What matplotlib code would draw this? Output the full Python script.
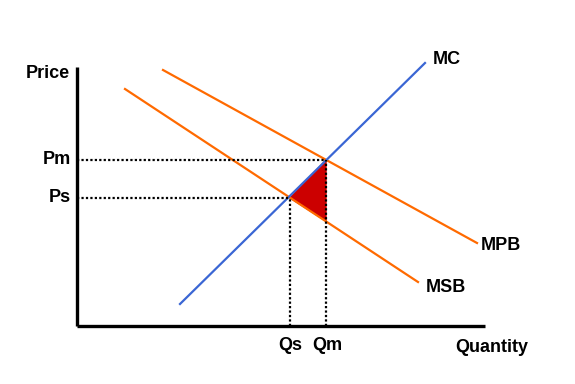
import numpy as np
import matplotlib
matplotlib.use("Agg")
import matplotlib.pyplot as plt

# curve end points (quantity, price) in chart units, origin at the axis corner
mc_q = [103, 348]
mc_p = [22, 263]
mpb_q = [86, 400]
mpb_p = [256, 83]
msb_q = [48, 341]
msb_p = [237, 44]

# equilibrium levels
Qs, Qm = 213, 249
Ps, Pm = 128, 166
msb_at_qm = 105

# axis extents
q_max = 408
p_max = 259

plt.rcParams['font.family'] = ['Liberation Sans', 'DejaVu Sans']

fig = plt.figure(figsize=(5.75, 3.84), dpi=100)
ax = fig.add_axes([0, 0, 1, 1])
ax.set_xlim(-77, 498)
ax.set_ylim(-58, 326)
ax.axis('off')

# axes
ax.plot([0, 0], [0, p_max], c='black', lw=2.4, solid_capstyle='butt')
ax.plot([0, q_max], [0, 0], c='black', lw=2.4, solid_capstyle='butt')

# deadweight triangle
ax.fill([Qs, Qm, Qm], [Ps, Pm, msb_at_qm], color='#cc0000', zorder=2)

# curves
orange = '#ff6a00'
ax.plot(mpb_q, mpb_p, c=orange, lw=1.6, zorder=3)
ax.plot(msb_q, msb_p, c=orange, lw=1.6, zorder=3)
ax.plot(mc_q, mc_p, c='#3a66d4', lw=1.6, zorder=3)

# dotted guide lines
dots = dict(c='black', lw=1.6, ls=(0, (1, 1)), zorder=4)
ax.plot([0, Qm], [Pm, Pm], **dots)
ax.plot([0, Qs], [Ps, Ps], **dots)
ax.plot([Qs, Qs], [0, Ps], **dots)
ax.plot([Qm, Qm], [0, Pm], **dots)

# labels
fs = 13
tk = dict(fontsize=fs, fontweight='bold')
ax.text(-7, p_max - 7, 'Price', ha='right', va='center', **tk)
ax.text(-6, Pm, 'Pm', ha='right', va='center', **tk)
ax.text(-6, Ps + 1, 'Ps', ha='right', va='center', **tk)
ax.text(Qs, -20, 'Qs', ha='center', va='center', **tk)
ax.text(Qm + 1, -20, 'Qm', ha='center', va='center', **tk)
ax.text(q_max + 7, -21, 'Quantity', ha='center', va='center', **tk)
ax.text(mc_q[1] + 8, mc_p[1] + 3, 'MC', ha='left', va='center', **tk)
ax.text(mpb_q[1] + 4, mpb_p[1] - 2, 'MPB', ha='left', va='center', **tk)
ax.text(msb_q[1] + 8, msb_p[1] - 6, 'MSB', ha='left', va='center', **tk)

fig.savefig('out.png', dpi=100)
